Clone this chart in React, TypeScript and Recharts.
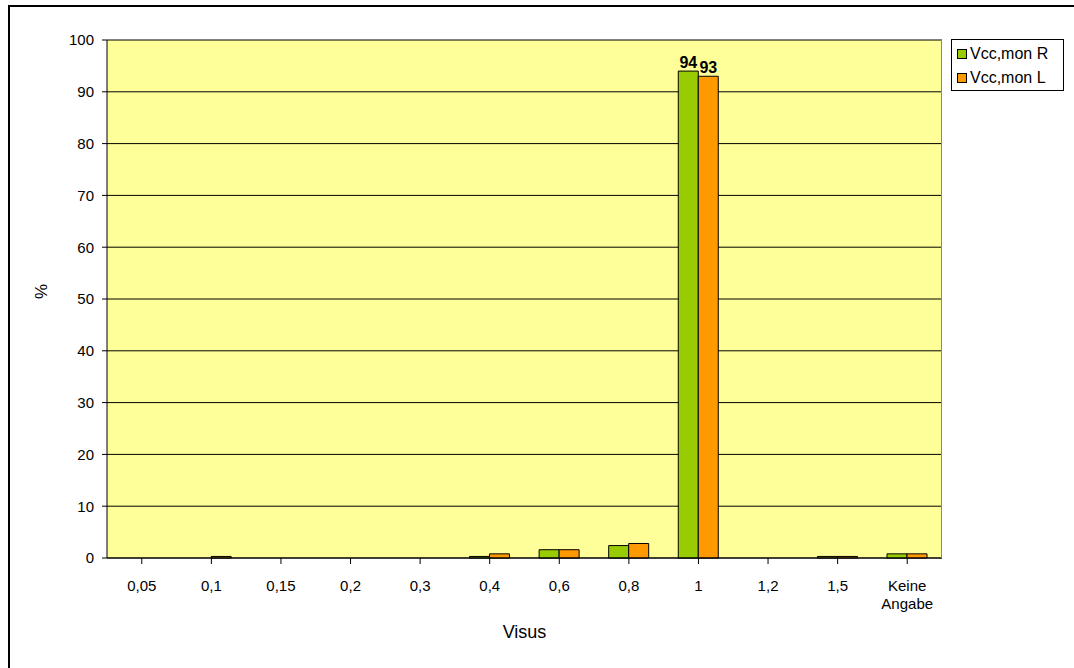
import React from "react";
import {
  BarChart,
  Bar,
  XAxis,
  YAxis,
  CartesianGrid,
  LabelList,
} from "recharts";

// Visual acuity categories (Visus) and share of respondents in percent
const categories = ["0,05", "0,1", "0,15", "0,2", "0,3", "0,4", "0,6", "0,8", "1", "1,2", "1,5", "Keine Angabe"];
const rightEye = [0, 0, 0, 0, 0, 0.3, 1.6, 2.4, 94, 0, 0.3, 0.8];
const leftEye = [0, 0.3, 0, 0, 0, 0.8, 1.6, 2.8, 93, 0, 0.3, 0.8];
const yTicks = [0, 10, 20, 30, 40, 50, 60, 70, 80, 90, 100];

const series = [
  { key: "R", name: "Vcc,mon R", color: "#99CC00" },
  { key: "L", name: "Vcc,mon L", color: "#FF9900" },
];

const data = categories.map((c, i) => ({ cat: c, R: rightEye[i], L: leftEye[i] }));

const FONT = "Liberation Sans, Arial, sans-serif";

const XTick = (props: any) => {
  const { x, y, payload } = props;
  const words = String(payload.value).split(" ");
  return (
    <g transform={`translate(${x},${y})`}>
      {words.map((w, i) => (
        <text
          key={i}
          x={0}
          y={25 + i * 18}
          textAnchor="middle"
          fontFamily={FONT}
          fontSize={15}
          fill="#000"
        >
          {w}
        </text>
      ))}
    </g>
  );
};

const BigLabel = (props: any) => {
  const { x, y, width, value } = props;
  if (value < 10) return null;
  return (
    <text
      x={x + width / 2}
      y={y - 3}
      textAnchor="middle"
      fontFamily={FONT}
      fontSize={16}
      fontWeight="bold"
      fill="#000"
    >
      {Math.round(value)}
    </text>
  );
};

export default function App() {
  return (
    <div style={{ position: "absolute", left: 0, top: 0, width: 1074, height: 668, overflow: "hidden", background: "#fff" }}>
      <div
        style={{
          position: "absolute",
          left: 8,
          top: 5,
          width: 1100,
          height: 700,
          borderTop: "2px solid #000",
          borderLeft: "2px solid #000",
        }}
      />
      <div style={{ position: "absolute", left: 0, top: 0 }}>
        <BarChart
          width={1074}
          height={668}
          data={data}
          margin={{ top: 40, left: 47, right: 132, bottom: 80 }}
          barCategoryGap="21%"
          barGap={0}
        >
          <CartesianGrid
            horizontal={true}
            vertical={false}
            stroke="#000"
            strokeWidth={1}
            fill="#FFFF99"
            syncWithTicks
          />
          <XAxis
            dataKey="cat"
            height={30}
            interval={0}
            tick={<XTick />}
            tickLine={{ stroke: "#000" }}
            axisLine={{ stroke: "#000" }}
            tickSize={6}
            label={{ value: "Visus", position: "insideBottom", offset: -50, fontFamily: FONT, fontSize: 18, fill: "#000" }}
          />
          <YAxis
            width={60}
            domain={[0, 100]}
            ticks={yTicks}
            interval={0}
            tick={{ fontFamily: FONT, fontSize: 15, fill: "#000" }}
            tickLine={{ stroke: "#000" }}
            axisLine={{ stroke: "#000" }}
            tickSize={5}
            tickMargin={8}
            label={{ value: "%", angle: -90, position: "insideLeft", offset: -6, fontFamily: FONT, fontSize: 17, fill: "#000" }}
          />
          {series.map((s) => (
            <Bar
              key={s.key}
              dataKey={s.key}
              name={s.name}
              fill={s.color}
              stroke="#000"
              strokeWidth={1}
              isAnimationActive={false}
            >
              <LabelList dataKey={s.key} content={<BigLabel />} />
            </Bar>
          ))}
        </BarChart>
      </div>
      {/* plot area right edge */}
      <div style={{ position: "absolute", left: 941, top: 40, width: 1, height: 518, background: "#888" }} />
      {/* legend */}
      <div
        style={{
          position: "absolute",
          left: 951,
          top: 39,
          width: 111,
          height: 50,
          border: "1px solid #000",
          background: "#fff",
          fontFamily: FONT,
          fontSize: 16,
        }}
      >
        {series.map((s, i) => (
          <div
            key={s.key}
            style={{ position: "absolute", left: 5, top: 4 + i * 24, height: 20, display: "flex", alignItems: "center" }}
          >
            <span
              style={{
                display: "inline-block",
                width: 8,
                height: 8,
                background: s.color,
                border: "1px solid #000",
                marginRight: 3,
              }}
            />
            <span style={{ color: "#000", whiteSpace: "nowrap" }}>{s.name}</span>
          </div>
        ))}
      </div>
    </div>
  );
}
